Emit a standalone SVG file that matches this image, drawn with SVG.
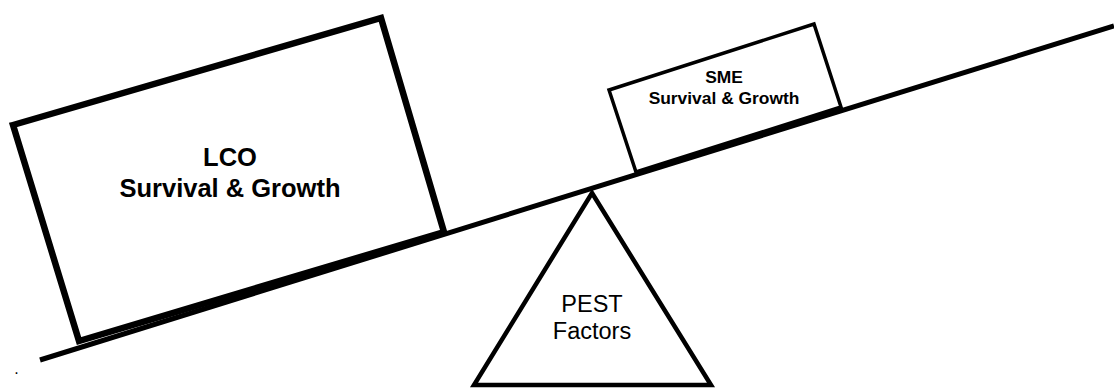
<svg xmlns="http://www.w3.org/2000/svg" width="1114" height="388" viewBox="0 0 1114 388">
  <style>
    .box { fill: #ffffff; stroke: #000000; stroke-linejoin: miter; }
    .bold { font-family: "Liberation Sans", Arial, sans-serif; font-weight: bold; fill: #000000; text-anchor: middle; }
    .reg { font-family: "Liberation Sans", Arial, sans-serif; fill: #000000; text-anchor: middle; }
  </style>
  <rect x="0" y="0" width="1114" height="388" fill="#ffffff"/>
  <g id="pest">
    <polygon class="box" stroke-width="4.5" points="592,193 711,385 474,385"/>
    <text class="reg" font-size="23.5" x="592" y="312">PEST</text>
    <text class="reg" font-size="23.5" x="592" y="339">Factors</text>
  </g>
  <g id="connectors">
    <line x1="40" y1="360" x2="1114" y2="26" stroke="#000000" stroke-width="5"/>
  </g>
  <g id="lco">
    <polygon class="box" stroke-width="6.5" points="13,125 381,18 444,232 79,341"/>
    <text class="bold" font-size="25.5" x="230" y="166">LCO</text>
    <text class="bold" font-size="25.5" x="230" y="197">Survival &amp; Growth</text>
  </g>
  <g id="sme">
    <polygon class="box" stroke-width="3.5" points="609,90 814,24 841,107 636,172"/>
    <text class="bold" font-size="17.4" x="724" y="83">SME</text>
    <text class="bold" font-size="17.4" x="724" y="104">Survival &amp; Growth</text>
  </g>
  <text class="reg" font-size="16" x="16.5" y="374" text-anchor="start">.</text>
</svg>
